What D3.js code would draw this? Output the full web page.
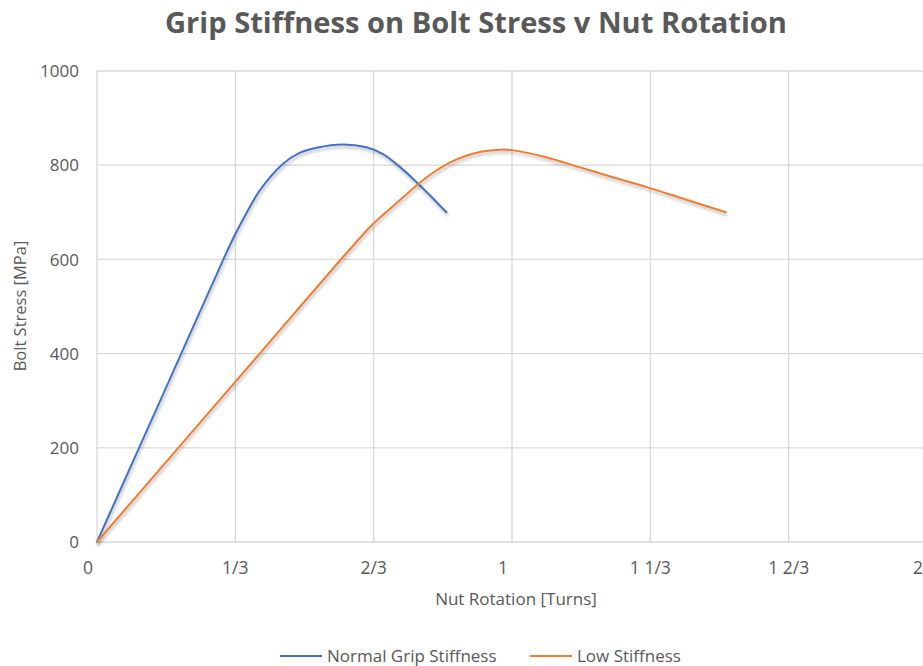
<!DOCTYPE html>
<html>
<head>
<meta charset="utf-8">
<script src="https://cdn.jsdelivr.net/npm/d3@7"></script>
<style>
  body { margin: 0; background: #fff; }
  text { font-family: "Open Sans", sans-serif; fill: #595959; }
</style>
</head>
<body>
<svg id="chart" width="923" height="666"></svg>
<script>
// data (turns, MPa)
const normalTurns = [0, 0.10, 0.20, 0.30, 0.33, 0.36, 0.392, 0.447, 0.488, 0.529, 0.592, 0.649, 0.688, 0.729, 0.770, 0.808, 0.842];
const normalStress = [0, 197, 394, 591, 648, 698, 746, 802, 826, 837, 844, 838, 824, 797, 764, 731, 700];
const lowTurns = [0, 0.20, 0.40, 0.60, 0.664, 0.729, 0.770, 0.808, 0.849, 0.890, 0.928, 0.969, 1.0, 1.082, 1.162, 1.241, 1.323, 1.402, 1.515];
const lowStress = [0, 204, 408, 612, 674, 725, 757, 783, 805, 820, 829, 833, 832, 817, 796, 775, 754, 732, 700];
const xTicks = [0, 1/3, 2/3, 1, 4/3, 5/3, 2];
const xTickLabels = ["0", "1/3", "2/3", "1", "1 1/3", "1 2/3", "2"];
const yTicks = [0, 200, 400, 600, 800, 1000];
const seriesNames = ["Normal Grip Stiffness", "Low Stiffness"];
const colors = ["#4472C4", "#ED7D31"];

const svg = d3.select("#chart");
const margin = {left: 97, top: 71, right: -4, bottom: 124};
const W = 923, H = 666;

const x = d3.scaleLinear().domain([0, 2]).range([margin.left, W - margin.right]);
const y = d3.scaleLinear().domain([0, 1000]).range([H - margin.bottom, margin.top]);

// soft shadow under the lines
const defs = svg.append("defs");
const f = defs.append("filter").attr("id", "shadow")
    .attr("x", "-10%").attr("y", "-10%").attr("width", "120%").attr("height", "130%");
f.append("feDropShadow").attr("dx", 1).attr("dy", 2.5).attr("stdDeviation", 1.6)
    .attr("flood-color", "#000").attr("flood-opacity", 0.28);

// gridlines
svg.append("g")
    .selectAll("line.h")
    .data(yTicks)
    .enter().append("line")
    .attr("x1", x(0)).attr("x2", x(2))
    .attr("y1", d => y(d)).attr("y2", d => y(d))
    .attr("stroke", "#d9d9d9").attr("stroke-width", 1.3);

svg.append("g")
    .selectAll("line.v")
    .data(xTicks)
    .enter().append("line")
    .attr("x1", d => x(d)).attr("x2", d => x(d))
    .attr("y1", y(0)).attr("y2", y(1000))
    .attr("stroke", "#d9d9d9").attr("stroke-width", 1.3);

// tick labels
svg.append("g")
    .selectAll("text")
    .data(yTicks)
    .enter().append("text")
    .attr("x", 79).attr("y", d => y(d))
    .attr("dy", "0.36em")
    .attr("text-anchor", "end")
    .attr("font-size", 17)
    .text(d => d);

// whole numbers sit a bit left (excel pads them for the missing fraction)
svg.append("g")
    .selectAll("text")
    .data(xTicks)
    .enter().append("text")
    .attr("x", (d, i) => x(d) - (Number.isInteger(d) ? 9 : 0))
    .attr("y", 574)
    .attr("text-anchor", "middle")
    .attr("font-size", 17.5)
    .text((d, i) => xTickLabels[i]);

// series
const line = d3.line()
    .x(d => x(d[0]))
    .y(d => y(d[1]))
    .curve(d3.curveCatmullRom.alpha(0.5));

const series = [
    d3.zip(normalTurns, normalStress),
    d3.zip(lowTurns, lowStress)
];

svg.append("g")
    .selectAll("path")
    .data(series)
    .enter().append("path")
    .attr("d", line)
    .attr("fill", "none")
    .attr("stroke", (d, i) => colors[i])
    .attr("stroke-width", 2)
    .attr("stroke-linecap", "round")
    .attr("filter", "url(#shadow)");

// title + axis titles
svg.append("text")
    .attr("x", 476).attr("y", 33)
    .attr("text-anchor", "middle")
    .attr("font-size", 28)
    .attr("font-weight", "bold")
    .attr("textLength", 622)
    .attr("lengthAdjust", "spacingAndGlyphs")
    .text("Grip Stiffness on Bolt Stress v Nut Rotation");

svg.append("text")
    .attr("x", 516).attr("y", 605)
    .attr("text-anchor", "middle")
    .attr("font-size", 17)
    .text("Nut Rotation [Turns]");

svg.append("text")
    .attr("transform", "translate(26,306) rotate(-90)")
    .attr("text-anchor", "middle")
    .attr("font-size", 16.5)
    .text("Bolt Stress [MPa]");

// legend
const legend = svg.append("g")
    .selectAll("g")
    .data(seriesNames)
    .enter().append("g")
    .attr("transform", (d, i) => "translate(" + (i == 0 ? 280 : 530) + ",656)");

legend.append("line")
    .attr("x1", 0).attr("x2", 42)
    .attr("stroke", (d, i) => colors[i])
    .attr("stroke-width", 2);

legend.append("text")
    .attr("x", 47).attr("dy", "0.36em")
    .attr("font-size", 17)
    .text(d => d);
</script>
</body>
</html>
